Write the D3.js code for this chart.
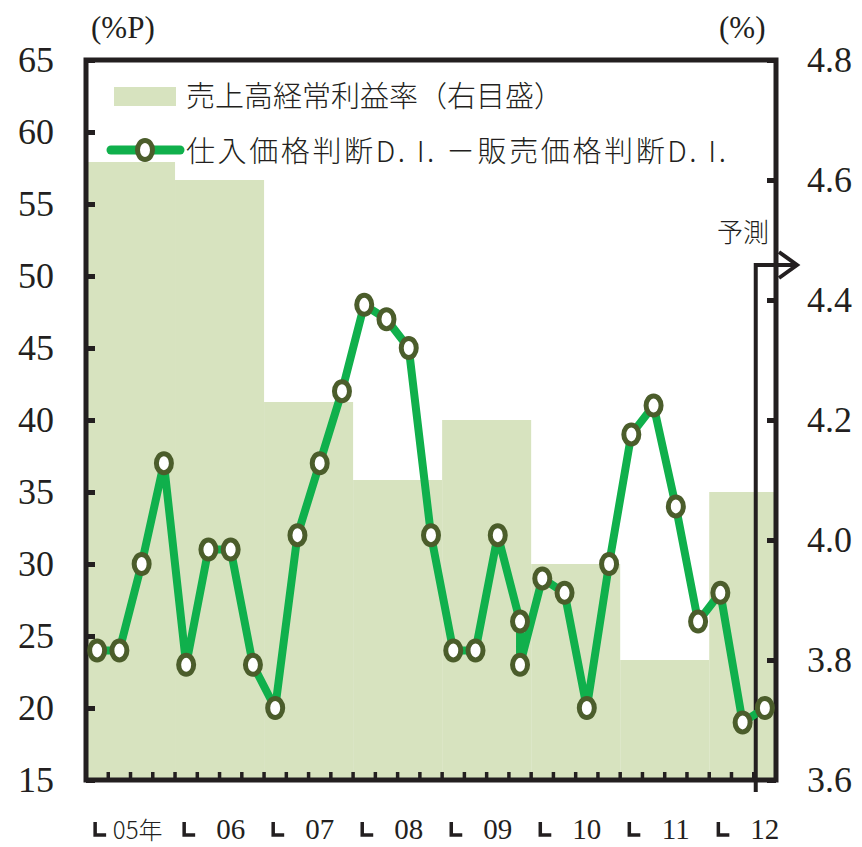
<!DOCTYPE html>
<html>
<head>
<meta charset="utf-8">
<script src="https://cdn.jsdelivr.net/npm/d3@7"></script>
<style>
  body { margin: 0; background: #fff; }
  svg { display: block; }
  .serif { font-family: "Liberation Serif", "Times New Roman", serif; fill: #231f20; }
  .jp { font-family: "Noto Sans CJK JP", sans-serif; fill: #231f20; font-weight: 300; }
</style>
</head>
<body>
<svg id="chart"></svg>
<script>
const years = ["05", "06", "07", "08", "09", "10", "11", "12"];
const yearLabels = ["05年", "06", "07", "08", "09", "10", "11", "12"];

// 売上高経常利益率 (right scale, %), one value per year
const profitRate = [4.63, 4.6, 4.23, 4.1, 4.2, 3.96, 3.8, 4.08];

// quarters along the x axis, 12Q3 is the forecast
const quarters = [
    "05Q1", "05Q2", "05Q3", "05Q4", "06Q1", "06Q2", "06Q3", "06Q4",
    "07Q1", "07Q2", "07Q3", "07Q4", "08Q1", "08Q2", "08Q3", "08Q4",
    "09Q1", "09Q2", "09Q3", "09Q4", "10Q1", "10Q2", "10Q3", "10Q4",
    "11Q1", "11Q2", "11Q3", "11Q4", "12Q1", "12Q2", "12Q3"
];

// 仕入価格判断D.I.－販売価格判断D.I. (left scale, %P); 09Q4 has two readings
const diPeriods = [
    "05Q1", "05Q2", "05Q3", "05Q4", "06Q1", "06Q2", "06Q3", "06Q4",
    "07Q1", "07Q2", "07Q3", "07Q4", "08Q1", "08Q2", "08Q3", "08Q4",
    "09Q1", "09Q2", "09Q3", "09Q4", "09Q4", "10Q1", "10Q2", "10Q3", "10Q4",
    "11Q1", "11Q2", "11Q3", "11Q4", "12Q1", "12Q2", "12Q3"
];
const diValues = [
    24, 24, 30, 37, 23, 31, 31, 23,
    20, 32, 37, 42, 48, 47, 45, 32,
    24, 24, 32, 26, 23, 29, 28, 20, 30,
    39, 41, 34, 26, 28, 19, 20
];

const leftTicks = [15, 20, 25, 30, 35, 40, 45, 50, 55, 60, 65];
const rightTicks = [3.6, 3.8, 4.0, 4.2, 4.4, 4.6, 4.8];
const forecastStart = "12Q3";

const width = 862;
const height = 847;
const frame = { left: 86, right: 776, top: 60, bottom: 780 };

const barColor = '#d7e3bf';
const lineColor = '#10b04c';
const markerColor = '#4b5d2b';
const ink = '#231f20';

const svg = d3.select('#chart')
    .attr('width', width)
    .attr('height', height);

const x = d3.scaleBand()
    .domain(quarters)
    .range([frame.left, frame.right])
    .padding(0);
const bw = x.bandwidth();
const cx = q => x(q) + bw / 2;

const yL = d3.scaleLinear().domain([15, 65]).range([frame.bottom, frame.top]);
const yR = d3.scaleLinear().domain([3.6, 4.8]).range([frame.bottom, frame.top]);

// yearly bars
const bars = years.map((yr, i) => {
    const qs = quarters.filter(q => q.startsWith(yr));
    return { yr, value: profitRate[i], x0: x(qs[0]), x1: x(qs[qs.length - 1]) + bw };
});

svg.append('g')
    .selectAll('rect')
    .data(bars)
    .join('rect')
    .attr('x', d => d.x0)
    .attr('width', d => d.x1 - d.x0)
    .attr('y', d => yR(d.value))
    .attr('height', d => yR(3.6) - yR(d.value))
    .attr('fill', barColor);

// legend
const legend = svg.append('g');
legend.append('rect')
    .attr('x', 114).attr('y', 87)
    .attr('width', 62).attr('height', 19)
    .attr('fill', barColor);
legend.append('text')
    .attr('class', 'jp')
    .attr('x', 186).attr('y', 97)
    .attr('dy', '0.36em')
    .style('font-size', '29px')
    .text('売上高経常利益率（右目盛）');
legend.append('line')
    .attr('x1', 111).attr('x2', 180)
    .attr('y1', 150).attr('y2', 150)
    .attr('stroke', lineColor)
    .attr('stroke-width', 9)
    .attr('stroke-linecap', 'round');
legend.append('ellipse')
    .attr('cx', 145).attr('cy', 150)
    .attr('rx', 7.5).attr('ry', 9.5)
    .attr('fill', '#fff')
    .attr('stroke', markerColor)
    .attr('stroke-width', 5);
legend.append('text')
    .attr('class', 'jp')
    .attr('x', 186).attr('y', 152)
    .attr('dy', '0.36em')
    .attr('textLength', 540)
    .attr('lengthAdjust', 'spacing')
    .style('font-size', '29px')
    .text('仕入価格判断D. I. －販売価格判断D. I.');

// left axis, ticks point inward
const leftAxis = d3.axisLeft(yL)
    .tickValues(leftTicks)
    .tickSizeInner(-9)
    .tickSizeOuter(0)
    .tickPadding(32)
    .tickFormat(d3.format('d'));

const gL = svg.append('g')
    .attr('transform', `translate(${frame.left},0)`)
    .call(leftAxis);

// right axis
const rightAxis = d3.axisRight(yR)
    .tickValues(rightTicks)
    .tickSizeInner(-9)
    .tickSizeOuter(0)
    .tickPadding(31)
    .tickFormat(d3.format('.1f'));

const gR = svg.append('g')
    .attr('transform', `translate(${frame.right},0)`)
    .call(rightAxis);

[gL, gR].forEach(g => {
    g.select('.domain').remove();
    g.selectAll('.tick line').attr('stroke', ink).attr('stroke-width', 5);
    g.selectAll('.tick text')
        .attr('class', 'serif')
        .style('font-size', '36px')
        .attr('fill', ink);
});

// quarter ticks on the bottom
svg.append('g')
    .selectAll('line')
    .data(quarters.slice(1))
    .join('line')
    .attr('x1', d => x(d)).attr('x2', d => x(d))
    .attr('y1', frame.bottom).attr('y2', frame.bottom - 8)
    .attr('stroke', ink)
    .attr('stroke-width', 3.5);

// frame
svg.append('rect')
    .attr('x', frame.left).attr('y', frame.top)
    .attr('width', frame.right - frame.left)
    .attr('height', frame.bottom - frame.top)
    .attr('fill', 'none')
    .attr('stroke', ink)
    .attr('stroke-width', 5);

// year labels: └ at the first quarter, label under the third
const yearG = svg.append('g');
years.forEach((yr, i) => {
    const q1 = yr + 'Q1';
    const q3 = yr + 'Q3';
    yearG.append('path')
        .attr('d', `M${cx(q1) - 2},822 V835 H${cx(q1) + 9}`)
        .attr('fill', 'none')
        .attr('stroke', ink)
        .attr('stroke-width', 3.5);
    yearG.append('text')
        .attr('class', i === 0 ? 'jp' : 'serif')
        .attr('x', cx(q3) - (i === 0 ? 4 : 0))
        .attr('y', 839)
        .attr('text-anchor', 'middle')
        .style('font-size', i === 0 ? '24px' : '29px')
        .text(yearLabels[i]);
});

// units
svg.append('text')
    .attr('class', 'serif')
    .attr('x', 91).attr('y', 38)
    .style('font-size', '31px')
    .text('(%P)');
svg.append('text')
    .attr('class', 'serif')
    .attr('x', 719).attr('y', 38)
    .style('font-size', '31px')
    .text('(%)');

// forecast marker
const fx = x(forecastStart) + 2;
const fy = 265;
svg.append('path')
    .attr('d', `M${fx},792 V${fy} H796 M779,${fy - 13} L797,${fy} L779,${fy + 13}`)
    .attr('fill', 'none')
    .attr('stroke', ink)
    .attr('stroke-width', 4);
svg.append('text')
    .attr('class', 'jp')
    .attr('x', 769).attr('y', 233)
    .attr('dy', '0.36em')
    .attr('text-anchor', 'end')
    .style('font-size', '26px')
    .text('予測');

// D.I. line and markers
const di = diPeriods.map((p, i) => ({ p, v: diValues[i] }));

svg.append('path')
    .datum(di)
    .attr('d', d3.line().x(d => cx(d.p)).y(d => yL(d.v)))
    .attr('fill', 'none')
    .attr('stroke', lineColor)
    .attr('stroke-width', 8)
    .attr('stroke-linejoin', 'round');

svg.append('g')
    .selectAll('ellipse')
    .data(di)
    .join('ellipse')
    .attr('cx', d => cx(d.p))
    .attr('cy', d => yL(d.v))
    .attr('rx', 7.5)
    .attr('ry', 9.5)
    .attr('fill', '#fff')
    .attr('stroke', markerColor)
    .attr('stroke-width', 5);
</script>
</body>
</html>
